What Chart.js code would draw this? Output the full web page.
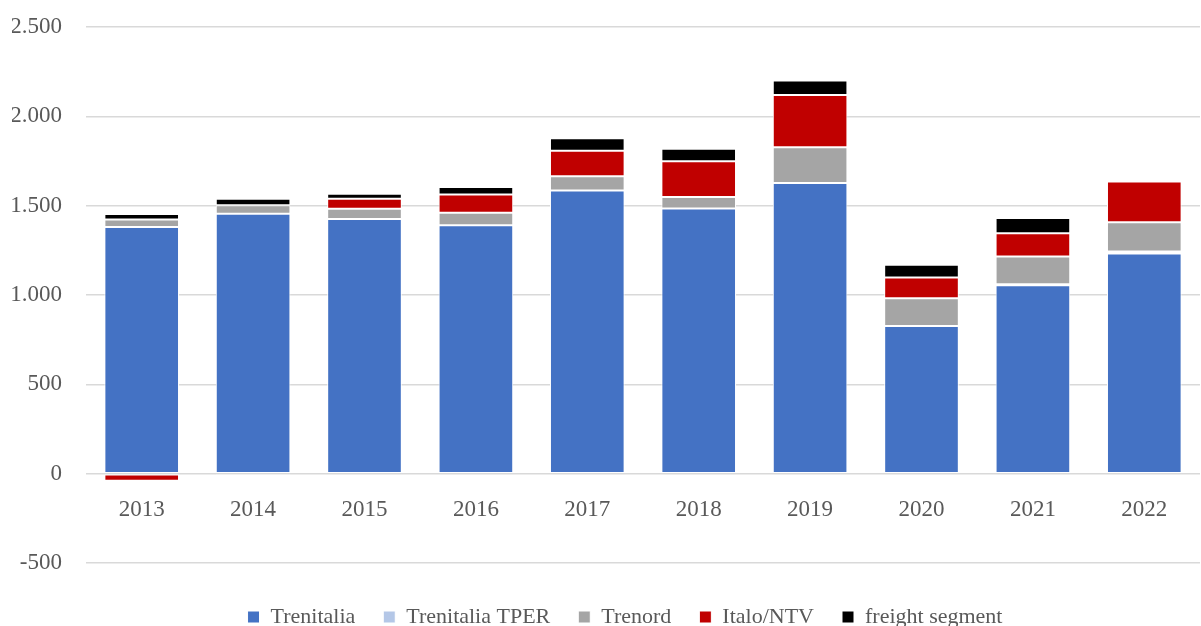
<!DOCTYPE html>
<html>
<head>
<meta charset="utf-8">
<script src="https://cdn.jsdelivr.net/npm/chart.js@4/dist/chart.umd.min.js"></script>
<style>
  html, body { margin: 0; padding: 0; background: #ffffff; }
  #wrap { width: 1201px; height: 626px; }
</style>
</head>
<body>
<div id="wrap"><canvas id="chart"></canvas></div>
<script>
const years = ['2013', '2014', '2015', '2016', '2017', '2018', '2019', '2020', '2021', '2022'];
const trenitalia = [1380, 1455, 1425, 1390, 1585, 1484, 1627, 826, 1055, 1232];
const trenitaliaTper = [0, 0, 0, 0, 0, 0, 0, 0, 5, 12];
const trenord = [43, 48, 58, 71, 79, 65, 200, 156, 156, 163];
const italo = [-40, -12, 56, 101, 143, 199, 293, 116, 129, 228];
const freight = [30, 36, 28, 43, 71, 71, 80, 71, 86, 0];

const textColor = '#595959';
const fontFamily = '"Liberation Serif", "DejaVu Serif", serif';

function fmt(v) {
    return String(v).replace(/\B(?=(\d{3})+(?!\d))/g, '.');
}

const series = [
    { label: 'Trenitalia', data: trenitalia, color: '#4472c4' },
    { label: 'Trenitalia TPER', data: trenitaliaTper, color: '#b4c7e7' },
    { label: 'Trenord', data: trenord, color: '#a5a5a5' },
    { label: 'Italo/NTV', data: italo, color: '#c00000' },
    { label: 'freight segment', data: freight, color: '#000000' }
];

// legend in the original sits a bit right of the page centre
const legendShift = {
    id: 'legendShift',
    afterLayout(chart) {
        chart.legend.left += 19;
        chart.legend.right += 19;
    }
};

const ctx = document.getElementById('chart');
new Chart(ctx, {
    type: 'bar',
    data: {
        labels: years,
        datasets: series.map(s => ({
            label: s.label,
            data: s.data,
            backgroundColor: s.color,
            borderColor: '#ffffff',
            borderWidth: 1,
            borderSkipped: false,
            barPercentage: 0.67,
            categoryPercentage: 1.0
        }))
    },
    options: {
        responsive: true,
        maintainAspectRatio: false,
        animation: false,
        layout: { padding: { top: 27, right: 1, left: 12, bottom: 0 } },
        plugins: {
            legend: {
                position: 'bottom',
                maxHeight: 63,
                title: {
                    display: true,
                    text: '',
                    font: { size: 2 },
                    padding: { top: 7, bottom: 5.6 }
                },
                labels: {
                    color: textColor,
                    font: { family: fontFamily, size: 22 },
                    boxWidth: 12,
                    boxHeight: 12,
                    padding: 28
                }
            },
            tooltip: { enabled: false }
        },
        scales: {
            x: {
                stacked: true,
                position: { y: 0 },
                grid: { display: false },
                border: { display: false },
                ticks: {
                    color: textColor,
                    font: { family: fontFamily, size: 23 },
                    padding: 14
                }
            },
            y: {
                stacked: true,
                min: -500,
                max: 2500,
                afterFit: scale => {
                    scale.width = 74;
                    scale.paddingTop = 0;
                    scale.paddingBottom = 0;
                },
                grid: {
                    color: '#d9d9d9',
                    lineWidth: 1.5,
                    drawTicks: false
                },
                border: { display: false },
                ticks: {
                    stepSize: 500,
                    color: textColor,
                    font: { family: fontFamily, size: 23 },
                    padding: 24,
                    callback: v => fmt(v)
                }
            }
        }
    },
    plugins: [legendShift]
});
</script>
</body>
</html>
